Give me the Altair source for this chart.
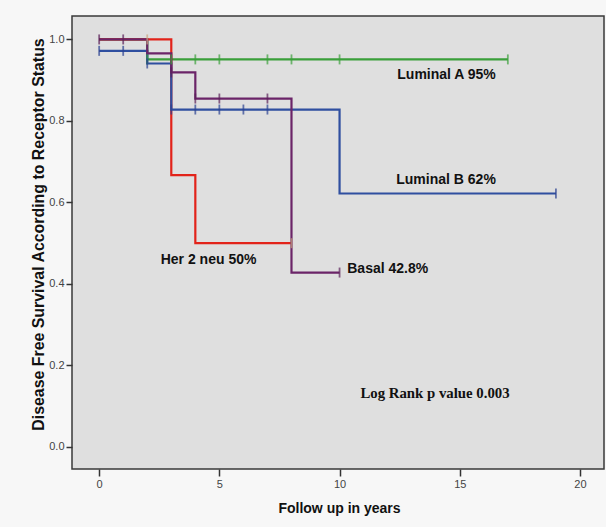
import altair as alt
import pandas as pd

# ---- data ----
groups = ["Luminal A", "Her 2 neu", "Luminal B", "Basal"]
colors = ["#3a9f3a", "#e2231a", "#2f4fa0", "#6b2468"]
censor_colors = ["#3a9f3a", "#c9a27e", "#2a4090", "#5a1f58"]

lumA_t = [0, 2, 17]
lumA_s = [1.0, 0.951, 0.951]
her2_t = [0, 3, 4, 8]
her2_s = [1.0, 0.667, 0.5, 0.5]
lumB_t = [0, 2, 3, 10, 19]
lumB_s = [0.972, 0.941, 0.828, 0.622, 0.622]
basal_t = [0, 2, 3, 4, 8, 10]
basal_s = [1.0, 0.966, 0.919, 0.855, 0.428, 0.428]

lumA_ct = [2, 3, 4, 5, 7, 8, 10, 17]
lumA_cs = [0.951] * 8
her2_ct = [2, 8]
her2_cs = [1.0, 0.5]
lumB_ct = [0, 1, 2, 3, 4, 5, 6, 7, 19]
lumB_cs = [0.972, 0.972, 0.941, 0.828, 0.828, 0.828, 0.828, 0.828, 0.622]
basal_ct = [0, 1, 3, 4, 5, 7, 10]
basal_cs = [1.0, 1.0, 0.919, 0.855, 0.855, 0.855, 0.428]

label_text = ["Luminal A 95%", "Luminal B 62%", "Basal 42.8%", "Her 2 neu 50%"]
label_x = [14.45, 14.43, 10.32, 2.56]
label_y = [0.912, 0.655, 0.436, 0.459]
label_align = ["center", "center", "left", "left"]

note_text = ["Log Rank p value 0.003"]
note_x = [13.97]
note_y = [0.130]

x_ticks = [0, 5, 10, 15, 20]
y_ticks = [0.0, 0.2, 0.4, 0.6, 0.8, 1.0]

# ---- build tables ----
curves = []
for g, t, s in [("Luminal A", lumA_t, lumA_s), ("Her 2 neu", her2_t, her2_s),
                ("Luminal B", lumB_t, lumB_s), ("Basal", basal_t, basal_s)]:
    for i, (a, b) in enumerate(zip(t, s)):
        curves.append({"group": g, "t": a, "s": b, "order": i})
curves = pd.DataFrame(curves)

cens = []
for g, t, s in [("Luminal A", lumA_ct, lumA_cs), ("Her 2 neu", her2_ct, her2_cs),
                ("Luminal B", lumB_ct, lumB_cs), ("Basal", basal_ct, basal_cs)]:
    for a, b in zip(t, s):
        cens.append({"group": g, "t": a, "s": b})
cens = pd.DataFrame(cens)

labels = pd.DataFrame({"text": label_text, "x": label_x, "y": label_y, "anchor": label_align})
notes = pd.DataFrame({"text": note_text, "x": note_x, "y": note_y})

xs = alt.Scale(domain=[-1.13, 21.0], nice=False, zero=False)
ys = alt.Scale(domain=[-0.054, 1.0575], nice=False, zero=False)

xaxis = alt.Axis(values=x_ticks, format="d", title="Follow up in years", grid=False,
                 domain=False, tickSize=7, tickWidth=1.5, tickColor="#333333",
                 labelPadding=2, titleX=267, titleY=39, titleBaseline="middle",
                 titleFontSize=14)
yaxis = alt.Axis(values=y_ticks, format=".1f",
                 title="Disease Free Survival According to Receptor Status",
                 grid=False, domain=False, tickSize=6, tickWidth=1.5, tickColor="#333333",
                 labelPadding=2, titleX=-34, titleY=218, titleAlign="center",
                 titleBaseline="middle", titleFontSize=15.9)

base_x = alt.X("t:Q", scale=xs, axis=xaxis)
base_y = alt.Y("s:Q", scale=ys, axis=yaxis)

layers = []
for g, c in zip(groups, colors):
    layers.append(
        alt.Chart(curves[curves["group"] == g]).mark_line(
            interpolate="step-after", strokeWidth=2.2, color=c, clip=True
        ).encode(x=base_x, y=base_y, order="order:Q")
    )
for g, c in zip(groups, censor_colors):
    layers.append(
        alt.Chart(cens[cens["group"] == g]).mark_tick(
            orient="vertical", size=10, thickness=1.8, color=c, clip=True
        ).encode(x=base_x, y=base_y)
    )

for al in ["center", "left"]:
    sub = labels[labels["anchor"] == al]
    layers.append(
        alt.Chart(sub).mark_text(
            font="Liberation Sans", fontWeight="bold", fontSize=14,
            align=al, baseline="middle", color="#111111"
        ).encode(x=alt.X("x:Q", scale=xs), y=alt.Y("y:Q", scale=ys), text="text:N")
    )

layers.append(
    alt.Chart(notes).mark_text(
        font="Liberation Serif", fontWeight="bold", fontSize=14.8,
        align="center", baseline="middle", color="#111111"
    ).encode(x=alt.X("x:Q", scale=xs), y=alt.Y("y:Q", scale=ys), text="text:N")
)

chart = alt.layer(*layers).properties(
    width=532, height=453,
    padding={"left": 72, "top": 16, "right": 2, "bottom": 58},
    autosize=alt.AutoSizeParams(type="none"),
    background="#f7f7f7",
).configure_view(
    fill="#dfdfdf", stroke="#3a3a3a", strokeWidth=1.5
).configure_axis(
    labelFont="Liberation Sans", labelFontSize=11, labelColor="#444444",
    titleFont="Liberation Sans", titleFontWeight="bold",
    titleColor="#111111"
)

chart.save("out.html", embed_options={"renderer": "svg", "actions": False})
